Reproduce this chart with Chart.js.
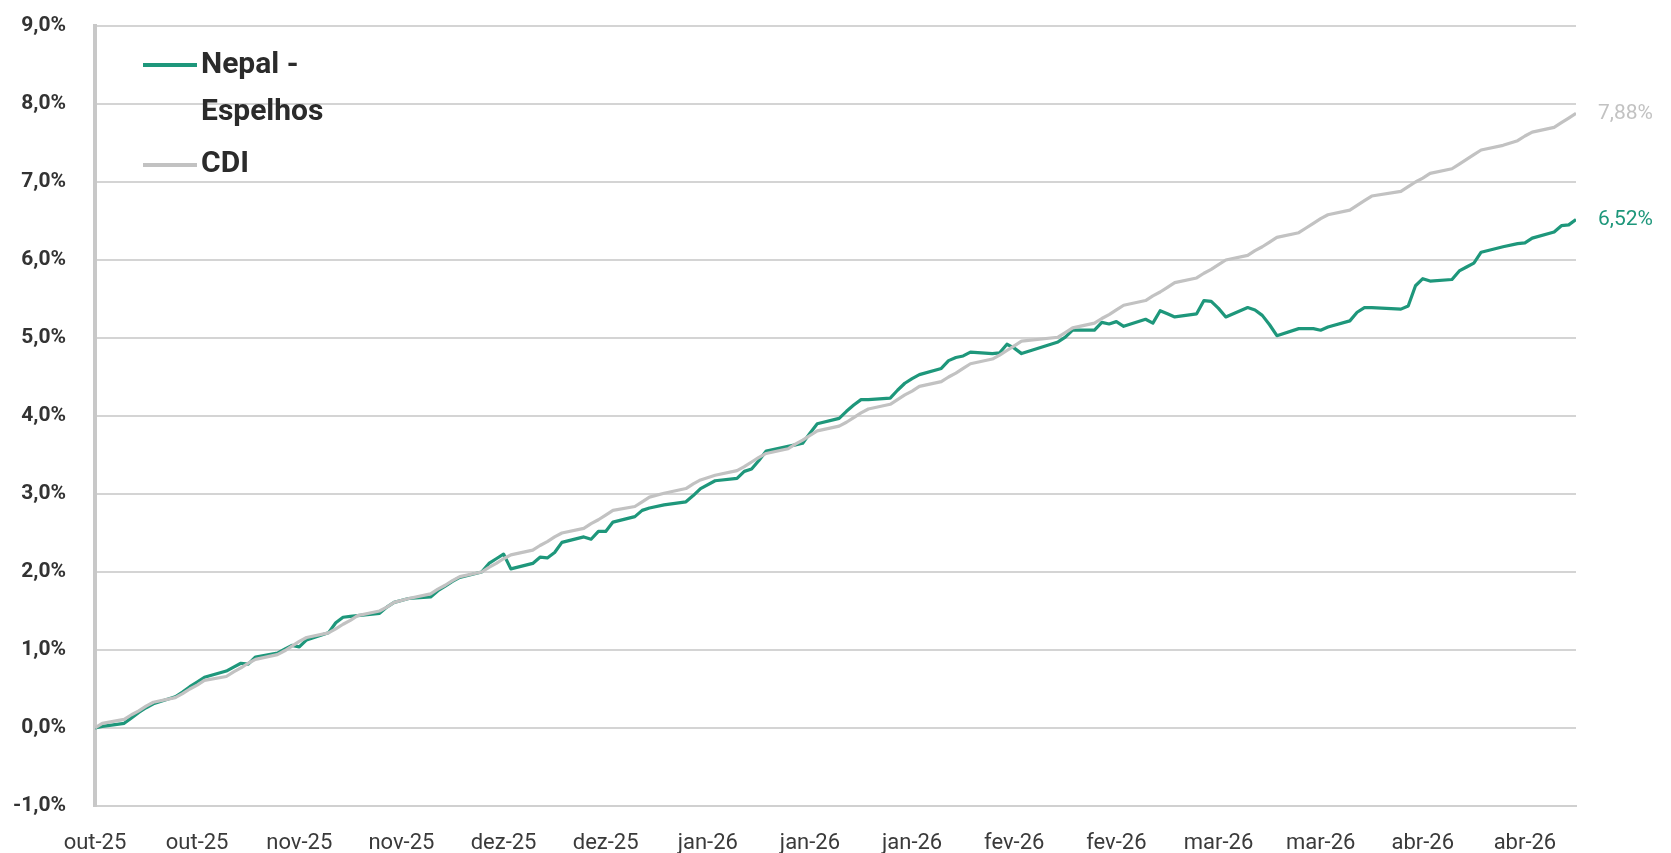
<!DOCTYPE html>
<html>
<head>
<meta charset="utf-8">
<script src="https://cdn.jsdelivr.net/npm/chart.js@4.4.1/dist/chart.umd.min.js"></script>
<style>
  html, body { margin: 0; padding: 0; background: #fff; }
  #wrap { width: 1671px; height: 853px; }
</style>
</head>
<body>
<div id="wrap"><canvas id="chart" width="1671" height="853"></canvas></div>
<script>
// business days shown on the chart
const dates = [
  '2025-10-09','2025-10-10',
  '2025-10-13','2025-10-14','2025-10-15','2025-10-16','2025-10-17',
  '2025-10-20','2025-10-21','2025-10-22','2025-10-23','2025-10-24',
  '2025-10-27','2025-10-28','2025-10-29','2025-10-30','2025-10-31',
  '2025-11-03','2025-11-04','2025-11-05','2025-11-06','2025-11-07',
  '2025-11-10','2025-11-11','2025-11-12','2025-11-13','2025-11-14',
  '2025-11-17','2025-11-18','2025-11-19','2025-11-21',
  '2025-11-24','2025-11-25','2025-11-26','2025-11-27','2025-11-28',
  '2025-12-01','2025-12-02','2025-12-03','2025-12-04','2025-12-05',
  '2025-12-08','2025-12-09','2025-12-10','2025-12-11','2025-12-12',
  '2025-12-15','2025-12-16','2025-12-17','2025-12-18','2025-12-19',
  '2025-12-22','2025-12-23','2025-12-24','2025-12-26',
  '2025-12-29','2025-12-30','2025-12-31','2026-01-02',
  '2026-01-05','2026-01-06','2026-01-07','2026-01-08','2026-01-09',
  '2026-01-12','2026-01-13','2026-01-14','2026-01-15','2026-01-16',
  '2026-01-19','2026-01-20','2026-01-21','2026-01-22','2026-01-23',
  '2026-01-26','2026-01-27','2026-01-28','2026-01-29','2026-01-30',
  '2026-02-02','2026-02-03','2026-02-04','2026-02-05','2026-02-06',
  '2026-02-09','2026-02-10','2026-02-11','2026-02-12','2026-02-13',
  '2026-02-18','2026-02-19','2026-02-20',
  '2026-02-23','2026-02-24','2026-02-25','2026-02-26','2026-02-27',
  '2026-03-02','2026-03-03','2026-03-04','2026-03-05','2026-03-06',
  '2026-03-09','2026-03-10','2026-03-11','2026-03-12','2026-03-13',
  '2026-03-16','2026-03-17','2026-03-18','2026-03-19','2026-03-20',
  '2026-03-23','2026-03-24','2026-03-25','2026-03-26','2026-03-27',
  '2026-03-30','2026-03-31','2026-04-01','2026-04-02',
  '2026-04-06','2026-04-07','2026-04-08','2026-04-09','2026-04-10',
  '2026-04-13','2026-04-14','2026-04-15','2026-04-16','2026-04-17',
  '2026-04-20','2026-04-22','2026-04-23','2026-04-24',
  '2026-04-27','2026-04-28','2026-04-29','2026-04-30'
];

// accumulated return (%)
const nepal = [
  0.00, 0.02,
  0.06, 0.13, 0.20, 0.26, 0.31,
  0.40, 0.46, 0.53, 0.59, 0.65,
  0.73, 0.78, 0.83, 0.82, 0.91,
  0.96, 1.01, 1.06, 1.04, 1.13,
  1.22, 1.35, 1.42, 1.43, 1.44,
  1.47, 1.55, 1.61, 1.66,
  1.68, 1.76, 1.82, 1.88, 1.93,
  2.00, 2.11, 2.17, 2.23, 2.04,
  2.11, 2.19, 2.18, 2.25, 2.38,
  2.45, 2.42, 2.52, 2.52, 2.64,
  2.71, 2.79, 2.82, 2.86,
  2.90, 2.98, 3.07, 3.17,
  3.20, 3.29, 3.32, 3.43, 3.55,
  3.61, 3.63, 3.65, 3.78, 3.90,
  3.97, 4.06, 4.14, 4.21, 4.21,
  4.23, 4.33, 4.42, 4.48, 4.53,
  4.61, 4.71, 4.75, 4.77, 4.82,
  4.80, 4.81, 4.92, 4.87, 4.80,
  4.95, 5.01, 5.10,
  5.10, 5.20, 5.18, 5.21, 5.15,
  5.24, 5.19, 5.35, 5.31, 5.27,
  5.31, 5.48, 5.47, 5.38, 5.27,
  5.39, 5.36, 5.29, 5.17, 5.03,
  5.12, 5.12, 5.12, 5.10, 5.14,
  5.22, 5.33, 5.39, 5.39,
  5.37, 5.41, 5.67, 5.76, 5.73,
  5.75, 5.86, 5.91, 5.96, 6.10,
  6.17, 6.21, 6.22, 6.28,
  6.36, 6.44, 6.45, 6.52
];

const cdi = [
  0.00, 0.06,
  0.11, 0.17, 0.22, 0.28, 0.33,
  0.39, 0.44, 0.50, 0.55, 0.61,
  0.66, 0.72, 0.77, 0.83, 0.88,
  0.94, 0.99, 1.05, 1.11, 1.16,
  1.22, 1.27, 1.33, 1.38, 1.44,
  1.50, 1.55, 1.61, 1.66,
  1.72, 1.78, 1.83, 1.89, 1.94,
  2.00, 2.06, 2.11, 2.17, 2.22,
  2.28, 2.34, 2.39, 2.45, 2.50,
  2.56, 2.62, 2.67, 2.73, 2.79,
  2.84, 2.90, 2.96, 3.01,
  3.07, 3.13, 3.18, 3.24,
  3.30, 3.35, 3.41, 3.47, 3.52,
  3.58, 3.64, 3.69, 3.75, 3.81,
  3.87, 3.92, 3.98, 4.04, 4.09,
  4.15, 4.21, 4.27, 4.32, 4.38,
  4.44, 4.50, 4.55, 4.61, 4.67,
  4.73, 4.78, 4.84, 4.90, 4.96,
  5.01, 5.07, 5.13,
  5.19, 5.25, 5.30, 5.36, 5.42,
  5.48, 5.54, 5.59, 5.65, 5.71,
  5.77, 5.83, 5.88, 5.94, 6.00,
  6.06, 6.12, 6.17, 6.23, 6.29,
  6.35, 6.41, 6.47, 6.53, 6.58,
  6.64, 6.70, 6.76, 6.82,
  6.88, 6.94, 7.00, 7.05, 7.11,
  7.17, 7.23, 7.29, 7.35, 7.41,
  7.47, 7.53, 7.59, 7.64,
  7.70, 7.76, 7.82, 7.88
];

const seriesNames = ['Nepal - Espelhos', 'CDI'];
const tickLabels = ['out-25','out-25','nov-25','nov-25','dez-25','dez-25','jan-26','jan-26',
                    'jan-26','fev-26','fev-26','mar-26','mar-26','abr-26','abr-26'];
const tickStepDays = 14;

const GREEN = '#1e977b';
const GREY = '#c2c2c2';
const FONT = 'Roboto, "Open Sans", sans-serif';

const DAY = 86400000;
const start = Date.parse(dates[0]);
const dayOf = d => Math.round((Date.parse(d) - start) / DAY);
const lastDay = dayOf(dates[dates.length - 1]);

function toPoints(values) {
  return values.map((v, i) => ({ x: dayOf(dates[i]), y: v }));
}

function fmtPct(v, dec) {
  return v.toFixed(dec).replace('.', ',') + '%';
}

// legend drawn inside the plot, with the long name wrapped on two lines
const legendPlugin = {
  id: 'innerLegend',
  afterDraw(chart) {
    const ctx = chart.ctx;
    ctx.save();
    ctx.font = 'bold 30px ' + FONT;
    ctx.fillStyle = '#2b2b2b';
    ctx.textBaseline = 'alphabetic';
    const parts = seriesNames[0].split(' - ');
    const rows = [
      { color: GREEN, lineY: 65, lines: [parts[0] + ' -', parts[1]], base: 73 },
      { color: GREY, lineY: 165, lines: [seriesNames[1]], base: 172 }
    ];
    rows.forEach(r => {
      ctx.strokeStyle = r.color;
      ctx.lineWidth = 4;
      ctx.beginPath();
      ctx.moveTo(143, r.lineY);
      ctx.lineTo(197, r.lineY);
      ctx.stroke();
      r.lines.forEach((t, k) => ctx.fillText(t, 201, r.base + k * 47));
    });
    ctx.restore();
  }
};

// value labels at the end of each line
const endLabelPlugin = {
  id: 'endLabels',
  afterDatasetsDraw(chart) {
    const ctx = chart.ctx;
    const xs = chart.scales.x, ys = chart.scales.y;
    ctx.save();
    ctx.font = '21px ' + FONT;
    ctx.textBaseline = 'middle';
    ctx.textAlign = 'left';
    chart.data.datasets.forEach(ds => {
      const last = ds.data[ds.data.length - 1];
      ctx.fillStyle = ds.borderColor;
      ctx.fillText(fmtPct(last.y, 2), xs.getPixelForValue(last.x) + 22, ys.getPixelForValue(last.y));
    });
    ctx.restore();
  }
};

new Chart(document.getElementById('chart'), {
  type: 'line',
  data: {
    datasets: [
      { label: seriesNames[0], data: toPoints(nepal), borderColor: GREEN, borderWidth: 3.2, order: 1 },
      { label: seriesNames[1], data: toPoints(cdi), borderColor: GREY, borderWidth: 3.2, order: 0 }
    ]
  },
  options: {
    responsive: false,
    animation: false,
    layout: { padding: { top: 26, right: 95, left: 0, bottom: 0 } },
    elements: { point: { radius: 0 }, line: { tension: 0, borderJoinStyle: 'round' } },
    plugins: { legend: { display: false }, tooltip: { enabled: false } },
    scales: {
      x: {
        type: 'linear',
        min: 0,
        max: lastDay,
        afterBuildTicks: s => { s.ticks = tickLabels.map((_, i) => ({ value: i * tickStepDays })); },
        afterFit: s => { s.height = 47; s.paddingLeft = 0; s.paddingRight = 0; },
        grid: { display: false, drawTicks: false },
        border: { display: true, color: '#d0d0d0', width: 2 },
        ticks: {
          autoSkip: false,
          maxRotation: 0,
          padding: 24,
          color: '#3a3a3a',
          font: { family: FONT, size: 22 },
          callback: (v, i) => tickLabels[i]
        }
      },
      y: {
        min: -1,
        max: 9,
        afterFit: s => { s.width = 95; s.paddingTop = 0; s.paddingBottom = 0; },
        grid: { color: '#d4d4d4', lineWidth: 2, drawTicks: false },
        border: { display: true, color: '#c8c8c8', width: 4 },
        ticks: {
          stepSize: 1,
          padding: 29,
          color: '#333333',
          font: { family: FONT, size: 21, weight: 'bold' },
          callback: v => fmtPct(v, 1)
        }
      }
    }
  },
  plugins: [legendPlugin, endLabelPlugin]
});
</script>
</body>
</html>
